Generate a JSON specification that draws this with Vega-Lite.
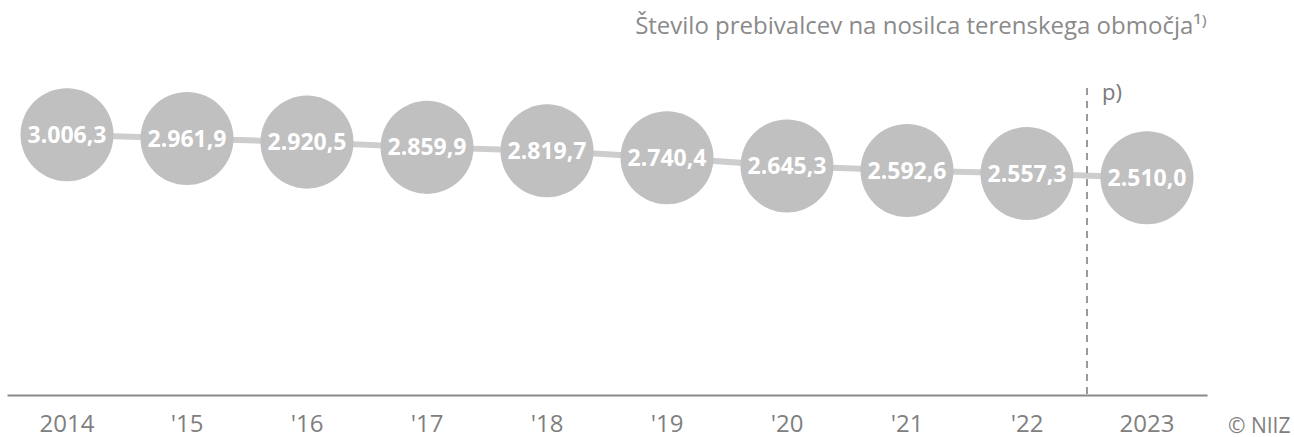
{
  "$schema": "https://vega.github.io/schema/vega-lite/v6.json",
  "autosize": "none",
  "width": 1200,
  "height": 355,
  "padding": {"left": 7, "top": 40, "right": 87, "bottom": 42},
  "background": "white",
  "config": {"view": {"stroke": null}, "font": "Open Sans"},
  "title": {
    "text": "Število prebivalcev na nosilca terenskega območja¹⁾",
    "anchor": "end",
    "frame": "group",
    "fontSize": 24,
    "fontWeight": "normal",
    "color": "#8a8a8a",
    "font": "Open Sans",
    "baseline": "alphabetic",
    "offset": 5,
    "dy": 23
  },
  "datasets": {
    "main": [
      {"lab": "2014", "v": 3006.3, "label": "3.006,3"},
      {"lab": "'15", "v": 2961.9, "label": "2.961,9"},
      {"lab": "'16", "v": 2920.5, "label": "2.920,5"},
      {"lab": "'17", "v": 2859.9, "label": "2.859,9"},
      {"lab": "'18", "v": 2819.7, "label": "2.819,7"},
      {"lab": "'19", "v": 2740.4, "label": "2.740,4"},
      {"lab": "'20", "v": 2645.3, "label": "2.645,3"},
      {"lab": "'21", "v": 2592.6, "label": "2.592,6"},
      {"lab": "'22", "v": 2557.3, "label": "2.557,3"},
      {"lab": "2023", "v": 2510.0, "label": "2.510,0"}
    ],
    "notes": [
      {"lab": "2023", "note": "p)"}
    ],
    "credit": [
      {"lab": "2023", "note": "© NIIZ"}
    ]
  },
  "layer": [
    {
      "data": {"name": "main"},
      "mark": {"type": "line", "color": "#cdcdcd", "strokeWidth": 6},
      "encoding": {
        "x": {
          "field": "lab",
          "type": "nominal",
          "sort": ["2014", "'15", "'16", "'17", "'18", "'19", "'20", "'21", "'22", "2023"],
          "scale": {"type": "band", "paddingInner": 0, "paddingOuter": 0},
          "axis": {
            "title": null,
            "labelAngle": 0,
            "labelFont": "Open Sans",
            "labelFontSize": 24,
            "labelColor": "#808080",
            "labelPadding": 17,
            "ticks": false,
            "tickSize": 0,
            "domainColor": "#8a8a8a",
            "domainWidth": 2,
            "grid": false
          }
        },
        "y": {
          "field": "v",
          "type": "quantitative",
          "scale": {"domain": [0, 4100], "nice": false, "zero": true},
          "axis": null
        }
      }
    },
    {
      "data": {"name": "main"},
      "mark": {"type": "point", "shape": "circle", "filled": true, "size": 8650, "color": "#c0c0c0", "opacity": 1, "strokeWidth": 0},
      "encoding": {
        "x": {"field": "lab", "type": "nominal", "sort": ["2014", "'15", "'16", "'17", "'18", "'19", "'20", "'21", "'22", "2023"]},
        "y": {"field": "v", "type": "quantitative"}
      }
    },
    {
      "data": {"name": "main"},
      "mark": {"type": "text", "color": "white", "fontSize": 23, "fontWeight": "bold", "font": "Open Sans", "align": "center", "baseline": "middle", "dy": 1},
      "encoding": {
        "x": {"field": "lab", "type": "nominal", "sort": ["2014", "'15", "'16", "'17", "'18", "'19", "'20", "'21", "'22", "2023"]},
        "y": {"field": "v", "type": "quantitative"},
        "text": {"field": "label"}
      }
    },
    {
      "data": {"name": "notes"},
      "mark": {"type": "rule", "color": "#7a7a7a", "strokeWidth": 1.5, "strokeDash": [7, 6]},
      "encoding": {
        "x": {"field": "lab", "type": "nominal", "bandPosition": 0, "sort": ["2014", "'15", "'16", "'17", "'18", "'19", "'20", "'21", "'22", "2023"]},
        "y": {"datum": 3546},
        "y2": {"datum": -35}
      }
    },
    {
      "data": {"name": "notes"},
      "mark": {"type": "text", "color": "#7a7a7a", "fontSize": 22, "font": "Open Sans", "align": "left", "baseline": "alphabetic", "dx": 15},
      "encoding": {
        "x": {"field": "lab", "type": "nominal", "bandPosition": 0, "sort": ["2014", "'15", "'16", "'17", "'18", "'19", "'20", "'21", "'22", "2023"]},
        "y": {"datum": 3407},
        "text": {"field": "note"}
      }
    },
    {
      "data": {"name": "credit"},
      "mark": {"type": "text", "color": "#808080", "fontSize": 21, "font": "Open Sans", "align": "left", "baseline": "alphabetic", "dx": 21},
      "encoding": {
        "x": {"field": "lab", "type": "nominal", "bandPosition": 1, "sort": ["2014", "'15", "'16", "'17", "'18", "'19", "'20", "'21", "'22", "2023"]},
        "y": {"datum": -440},
        "text": {"field": "note"}
      }
    }
  ]
}
